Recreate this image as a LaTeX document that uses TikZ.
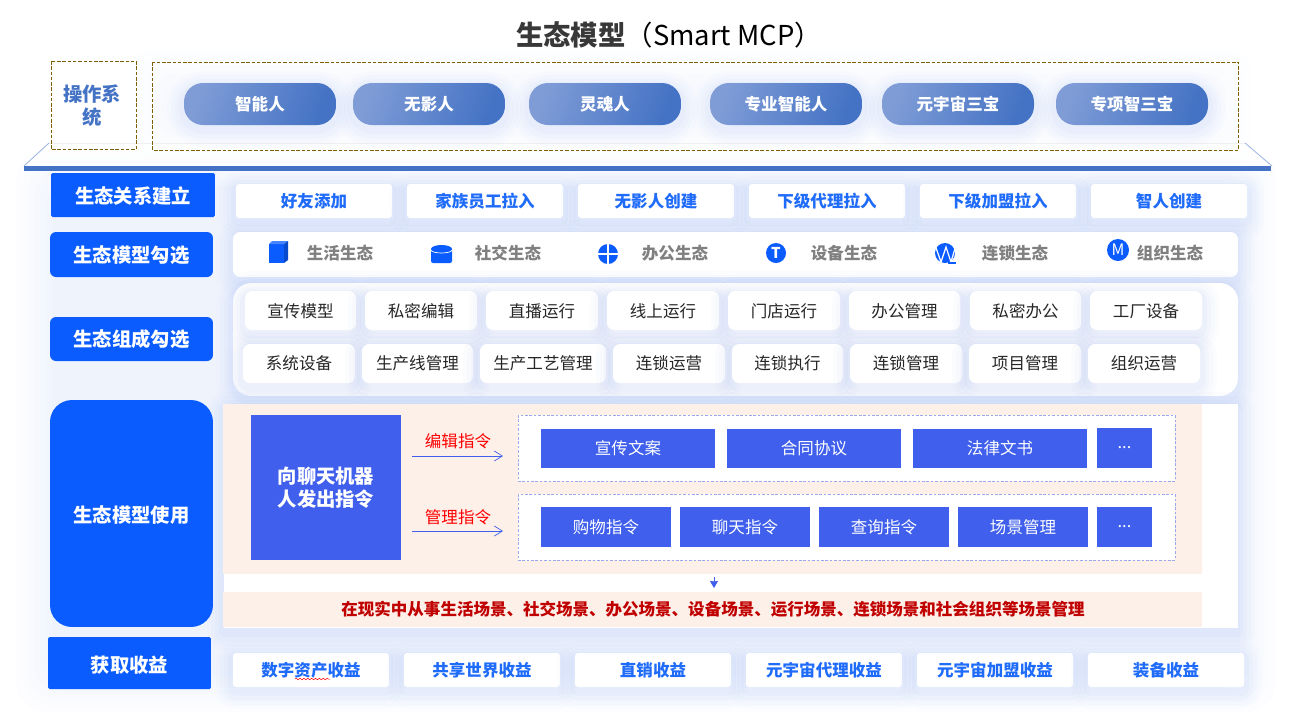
\documentclass[tikz,border=0pt]{standalone}
\usepackage{fontspec}
\setmainfont{Noto Sans CJK SC}
\usetikzlibrary{arrows.meta,decorations.pathmorphing}
\definecolor{mainblue}{HTML}{0A5CFF}
\definecolor{chipblue}{HTML}{1F6BFA}
\definecolor{barblue}{HTML}{4472C4}
\definecolor{pilllight}{HTML}{7F9CD6}
\definecolor{cmdblue}{HTML}{3F5FEC}
\definecolor{dashblue}{HTML}{9AA8EE}
\definecolor{glow}{HTML}{3C6FE0}
\definecolor{peach}{HTML}{FDF0E9}
\definecolor{darkred}{HTML}{C00000}
\definecolor{brown}{HTML}{7F6000}
\def\px{0.56905pt}
\newcommand{\lowered}[2]{\raisebox{-#1}[\height][\depth]{#2}}
\tikzset{
    softshadow/.style={
        preaction={draw=glow,draw opacity=.014,line width=34*\px,line join=round,transform canvas={yshift=-5*\px}},
        preaction={draw=glow,draw opacity=.018,line width=26*\px,line join=round,transform canvas={yshift=-5*\px}},
        preaction={draw=glow,draw opacity=.024,line width=18*\px,line join=round,transform canvas={yshift=-5*\px}},
        preaction={draw=glow,draw opacity=.03,line width=10*\px,line join=round,transform canvas={yshift=-4*\px}}},
    txtA/.style={font=\fontsize{9.4}{11}\selectfont},
    txtB/.style={font=\fontsize{11}{13}\selectfont\bfseries,align=center},
    sidelabel/.style={txtB,fill=mainblue,text=white,inner sep=0pt,minimum width=163*\px},
    pill/.style={txtA,softshadow,shade,left color=pilllight,right color=barblue,shading angle=70,
        text=white,rounded corners=19*\px,minimum width=152*\px,minimum height=42*\px,inner sep=0pt},
    chip/.style={txtA,softshadow,fill=white,text=chipblue,rounded corners=3*\px,
        minimum width=156*\px,minimum height=34*\px,inner sep=0pt},
    modelchip/.style={txtA,softshadow,fill=white,text=black!85,rounded corners=7*\px,
        minimum height=39*\px,inner sep=0pt},
    eco/.style={txtA,text=black!50,inner sep=0pt},
    cmdbox/.style={txtA,fill=cmdblue,text=white,inner sep=0pt},
    dashbox/.style={fill=white,draw=dashblue,line width=0.45pt,dash pattern=on 1.5pt off 1pt},
    osbox/.style={draw=brown,line width=0.45pt,dash pattern=on 2pt off 1pt},
    cmdarrow/.style={cmdblue,line width=0.5pt,-{Straight Barb[length=8*\px,width=10*\px,line width=0.4pt]}},
    roundicon/.style={circle,fill=mainblue,text=white,inner sep=0pt,minimum size=20*\px}
}
\begin{document}
\begin{tikzpicture}[x=0.02cm,y=-0.02cm]
    \useasboundingbox (0,0) rectangle (1290,718);
    % pale glow behind everything
    \foreach \g in {0,6,...,36} {
        \fill[glow,opacity=.011,rounded corners=30*\px] (16+\g,150+\g) rectangle (1276-\g,712-\g);
    }
    \foreach \g in {0,8,...,32} {
        \fill[glow,opacity=.006,rounded corners=20*\px] (130+\g,50+\g) rectangle (1250-\g,160-\g);
    }
    % title
    \node[inner sep=0pt] (title) at (669,35) {\fontsize{15.6}{18}\selectfont\textbf{\textcolor{black!78}{生态模型}}（Smart MCP）};
    % platform
    \fill[white,opacity=.6] (49,143) -- (1245,143) -- (1272,166) -- (24,166) -- cycle;
    \draw[black!6,line width=0.4pt] (49,143) -- (1245,143);
    \draw[barblue!50,line width=0.5pt] (49,143) -- (24,166);
    \draw[barblue!50,line width=0.5pt] (1245,143) -- (1272,166);
    \fill[barblue] (24,166) rectangle (1271,171);
    % operating system row
    \draw[osbox] (51,61) rectangle (136,149.5);
    \draw[osbox] (152.5,62) rectangle (1238.5,150);
    \node[txtB,text=barblue,inner sep=0pt] (os) at (92,106) {操作系\\统};
    \foreach \cx/\txt [count=\i] in {260/智能人,429/无影人,605/灵魂人,786/专业智能人,958/元宇宙三宝,1132/专项智三宝} {
        \node[pill] (role\i) at (\cx,104) {\textbf{\txt}};
    }
    % relation row
    \node[sidelabel,minimum width=164*\px,minimum height=44*\px,rounded corners=1.5*\px] (relation) at (133,195) {\lowered{0.5pt}{生态关系建立}};
    \foreach \cx/\txt [count=\i] in {314/好友添加,485/家族员工拉入,656/无影人创建,827/下级代理拉入,998/下级加盟拉入,1169/智人创建} {
        \node[chip] (rel\i) at (\cx,201) {\textbf{\txt}};
    }
    % model selection row
    \node[sidelabel,minimum height=45*\px,rounded corners=6*\px] (pick) at (131.5,254.5) {\lowered{0.5pt}{生态模型勾选}};
    \node[softshadow,fill=white,rounded corners=7*\px,minimum width=1005*\px,minimum height=45*\px,inner sep=0pt] (pickpanel) at (735.5,254.5) {};
    \foreach \cx/\txt [count=\i] in {340/生活生态,508/社交生态,675/办公生态,844/设备生态,1015/连锁生态,1170/组织生态} {
        \node[eco] (eco\i) at (\cx,253) {\textbf{\txt}};
    }
    % icons
    \fill[mainblue] (269,244) rectangle (284,263);
    \fill[mainblue!75] (269,244) -- (272,241) -- (288,241) -- (284,244) -- cycle;
    \fill[mainblue!80!black] (284,244) -- (288,241) -- (288,260) -- (284,263) -- cycle;
    \fill[mainblue,rounded corners=2*\px] (431,248) rectangle (452,263);
    \fill[mainblue] (441.5,249) ellipse [x radius=10.5,y radius=4];
    \draw[white,line width=0.4pt] (431,250) arc [start angle=180,end angle=360,x radius=10.5,y radius=-3];
    \node[roundicon] (iconoffice) at (608,254) {};
    \draw[white,line width=0.7pt] (iconoffice.north) -- (iconoffice.south);
    \draw[white,line width=0.7pt] (iconoffice.west) -- (iconoffice.east);
    \node[roundicon,font=\fontsize{8.5}{10}\selectfont\bfseries] (icondevice) at (776,253) {T};
    \node[roundicon] (iconchain) at (945,253) {};
    \draw[white,line width=0.7pt] (935,245) -- (941,262) -- (946,247) -- (951,262) -- (956,245);
    \draw[mainblue,line width=0.7pt] (948,263) -- (956,263);
    \node[roundicon,minimum size=22*\px,font=\fontsize{9}{10}\selectfont] (iconorg) at (1118,250) {M};
    % composition row
    \node[sidelabel,minimum height=44*\px,rounded corners=6*\px] (compose) at (131.5,339) {生态组成勾选};
    \node[softshadow,fill=white,rounded corners=18*\px,minimum width=1005*\px,minimum height=113*\px,inner sep=0pt] (composepanel) at (735.5,339.5) {};
    \foreach \cx/\w/\txt [count=\i] in {300.5/111/宣传模型,421/112/私密编辑,542/112/直播运行,663/112/线上运行,784/112/门店运行,904.5/111/办公管理,1025.5/111/私密办公,1146/112/工厂设备} {
        \node[modelchip,minimum width=\w*\px] (part\i) at (\cx,310.5) {\lowered{0.5pt}{\txt}};
    }
    \foreach \cx/\w/\txt [count=\i] in {299/112/系统设备,417.5/111/生产线管理,543/126/生产工艺管理,669/112/连锁运营,787.5/111/连锁执行,906/112/连锁管理,1025/112/项目管理,1144/112/组织运营} {
        \node[modelchip,minimum width=\w*\px] (unit\i) at (\cx,363.5) {\txt};
    }
    % usage row
    \fill[white,softshadow] (224,404) rectangle (1238,628);
    \fill[peach] (223,404) rectangle (1202,574);
    \fill[peach] (223,592) rectangle (1202,627);
    \node[sidelabel,minimum height=227*\px,rounded corners=22*\px] (use) at (131.5,513.5) {\lowered{1.1pt}{生态模型使用}};
    \node[txtB,fill=cmdblue,text=white,minimum width=150*\px,minimum height=145*\px,inner sep=0pt] (chat) at (326,487.5) {向聊天机器\\人发出指令};
    \node[txtA,text=red,inner sep=0pt] (editlabel) at (458,441) {编辑指令};
    \node[txtA,text=red,inner sep=0pt] (managelabel) at (458,517) {管理指令};
    \coordinate (edits) at (412,456);
    \coordinate (edite) at (503,456);
    \coordinate (manages) at (412,531);
    \coordinate (managee) at (503,531);
    \draw[cmdarrow] (edits) -- (edite);
    \draw[cmdarrow] (manages) -- (managee);
    \draw[dashbox] (518,415) rectangle (1175,481);
    \draw[dashbox] (518,494) rectangle (1175,560);
    \foreach \cx/\txt [count=\i] in {628/宣传文案,814/合同协议,1000/法律文书} {
        \node[cmdbox,minimum width=174*\px,minimum height=39*\px] (edit\i) at (\cx,448.5) {\txt};
    }
    \node[cmdbox,minimum width=55*\px,minimum height=40*\px] (editmore) at (1124.5,448) {...};
    \foreach \cx/\txt [count=\i] in {606/购物指令,745/聊天指令,884/查询指令,1023/场景管理} {
        \node[cmdbox,minimum width=130*\px,minimum height=40*\px] (manage\i) at (\cx,527) {\txt};
    }
    \node[cmdbox,minimum width=55*\px,minimum height=40*\px] (managemore) at (1124.5,527) {...};
    \coordinate (downs) at (714,577);
    \coordinate (downe) at (714,588);
    \draw[cmdblue,line width=0.4pt,-{Triangle[length=7*\px,width=8*\px]}] (downs) -- (downe);
    \node[txtA,text=darkred,inner sep=0pt] (scene) at (713,609) {\textbf{在现实中从事生活场景、社交场景、办公场景、设备场景、运行场景、连锁场景和社会组织等场景管理}};
    % income row
    \node[sidelabel,minimum height=52*\px,rounded corners=1.5*\px] (income) at (129.5,663) {\lowered{1.1pt}{获取收益}};
    \foreach \cx/\txt [count=\i] in {311/数字资产收益,482/共享世界收益,653/直销收益,824/元宇宙代理收益,995/元宇宙加盟收益,1166/装备收益} {
        \node[chip] (gain\i) at (\cx,670) {\textbf{\txt}};
    }
    \draw[red,line width=0.3pt,decorate,decoration={snake,amplitude=0.4pt,segment length=2.2pt}] (295,679) -- (330,679);
\end{tikzpicture}
\end{document}
